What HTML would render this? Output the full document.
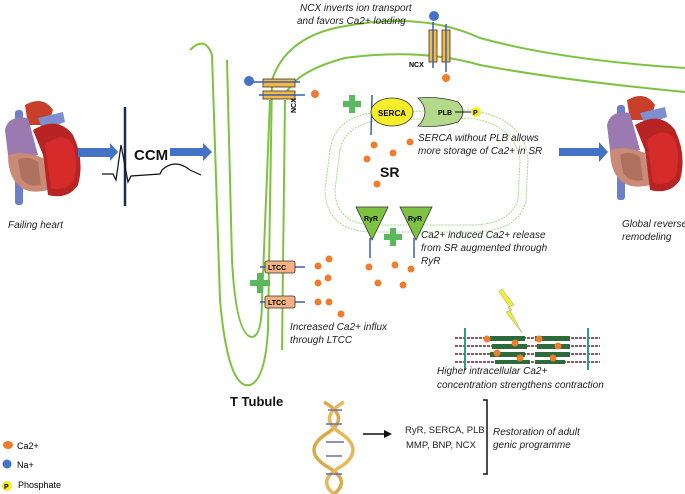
<!DOCTYPE html>
<html><head><meta charset="utf-8"><style>
html,body{margin:0;padding:0;background:#fff;}
svg{display:block;font-family:"Liberation Sans",sans-serif;}
.it{font-style:italic;font-size:10px;fill:#222;}
</style></head><body>
<svg width="685" height="494" viewBox="0 0 685 494" xmlns="http://www.w3.org/2000/svg">
<defs>
<g id="heart">
  <rect x="12" y="10" width="8" height="95" rx="3" fill="#6d7fc8"/>
  <path d="M22 5 Q40 -5 50 10 L45 25 L25 25Z" fill="#c8402a"/>
  <path d="M35 18 L60 12 L62 22 L40 30Z" fill="#7d8fd0"/>
  <path d="M2 30 Q5 15 25 18 L35 55 Q20 60 5 55Z" fill="#9a7ab0"/>
  <path d="M5 55 Q20 50 40 58 L45 90 Q25 95 15 85 Q5 75 5 55Z" fill="#c98a78"/>
  <path d="M30 30 Q55 15 70 35 Q82 60 75 85 Q65 100 45 95 L40 55Z" fill="#b82424"/>
  <path d="M42 45 Q60 30 70 45 Q76 65 70 82 Q60 92 48 88Z" fill="#d62b2b"/>
  <path d="M15 60 Q25 55 35 62 L38 85 Q25 88 18 78Z" fill="#b0705e"/>
</g>
</defs>

<use href="#heart" x="3" y="100"/>
<use href="#heart" x="605" y="95"/>
<text x="8" y="228" class="it">Failing heart</text>
<text x="622" y="227" class="it">Global reverse</text>
<text x="622" y="240" class="it">remodeling</text>

<g fill="#4472c4">
<rect x="78" y="148" width="32" height="9"/><polygon points="110,143 118,152 110,161"/>
<rect x="170" y="148" width="33" height="8"/><polygon points="203,143 212,152 203,161"/>
<rect x="559" y="148" width="41" height="8"/><polygon points="599,142 608,152 599,162"/>
</g>
<line x1="125" y1="107" x2="125" y2="206" stroke="#1a2a50" stroke-width="2.5"/>
<path d="M102 174 L113 174 L116 180 L121 145 L128 182 L131 176 L160 174 L162 170 Q175 158 190 170 L201 175" fill="none" stroke="#111" stroke-width="1.2"/>
<text x="134" y="160" font-weight="bold" font-size="15" fill="#111">CCM</text>

<g fill="none" stroke="#7dc241" stroke-width="2">
<path d="M190 50 Q205 35 212 55 L220 300 Q228 390 250 385 Q265 380 268 330 L272 80 Q285 40 335 28 Q420 10 480 38 Q560 60 685 68"/>
<path d="M227 60 L232 260 Q236 336 252 337 Q262 336 262 300 L270 100"/>
<path d="M283 95 L288 90 Q300 70 345 58 Q420 48 480 65 Q560 80 685 92"/>
<path d="M282 350 L285 100"/>
</g>
<g fill="none" stroke="#a7d88a" stroke-width="1" stroke-dasharray="2,1">
<path d="M340 150 Q345 125 380 120 L470 118 Q515 125 520 160 L518 200 Q510 225 470 225 L370 225 Q335 222 335 190Z"/>
<path d="M330 150 Q335 115 380 112 L470 110 Q525 118 528 160 L526 200 Q520 232 470 232 L370 232 Q326 230 325 190Z"/>
</g>
<text x="380" y="177" font-weight="bold" font-size="14" fill="#111">SR</text>

<g stroke="#333" stroke-width="0.8" fill="#f5b942">
<rect x="263" y="79" width="32" height="8"/><rect x="263" y="91" width="32" height="8"/>
</g>
<g stroke="#3a5fb0" stroke-width="1.5"><line x1="253" y1="82" x2="300" y2="82"/><line x1="259" y1="95" x2="305" y2="95"/></g>
<circle cx="249" cy="81" r="5" fill="#4472c4"/>
<circle cx="315" cy="94" r="4" fill="#ef7d30"/>
<text x="0" y="0" font-size="7" font-weight="bold" transform="translate(296,113) rotate(-90)">NCX</text>
<g stroke="#333" stroke-width="0.8" fill="#f5b942">
<rect x="429" y="30" width="8" height="32"/><rect x="442" y="30" width="8" height="32"/>
</g>
<g stroke="#3a5fb0" stroke-width="1.5"><line x1="433" y1="22" x2="433" y2="68"/><line x1="446" y1="24" x2="446" y2="72"/></g>
<circle cx="434" cy="16" r="5" fill="#4472c4"/>
<circle cx="446" cy="78" r="4" fill="#ef7d30"/>
<text x="409" y="67" font-size="7" font-weight="bold">NCX</text>
<text x="300" y="11" class="it">NCX inverts ion transport</text>
<text x="297" y="24" class="it">and favors Ca2+ loading</text>

<line x1="372" y1="95" x2="371" y2="135" stroke="#3a5fb0" stroke-width="1.5"/>
<ellipse cx="392" cy="112" rx="21" ry="14" fill="#f5ec2a" stroke="#333" stroke-width="0.8"/>
<text x="378" y="116" font-size="8" font-weight="bold">SERCA</text>
<rect x="343" y="101" width="18" height="6" fill="#5cb85c"/><rect x="349" y="95" width="6" height="18" fill="#5cb85c"/>
<path d="M418 98 Q440 96 458 102 Q468 112 458 122 Q440 128 418 126 Q432 112 418 98Z" fill="#b5d98a" stroke="#333" stroke-width="0.8"/>
<text x="438" y="115" font-size="7" font-weight="bold">PLB</text>
<line x1="455" y1="112" x2="473" y2="112" stroke="#111"/>
<circle cx="476" cy="112" r="5" fill="#f5ec2a"/><text x="473" y="115" font-size="7" font-weight="bold">P</text>
<text x="418" y="141" class="it">SERCA without PLB allows</text>
<text x="418" y="154" class="it">more storage of Ca2+ in SR</text>
<g fill="#ef7d30">
<circle cx="374" cy="145" r="3.5"/><circle cx="410" cy="142" r="3.5"/><circle cx="393" cy="153" r="3.5"/><circle cx="367" cy="159" r="3.5"/><circle cx="377" cy="184" r="3.5"/>
</g>

<g fill="#7dc241" stroke="#333" stroke-width="0.8">
<polygon points="356,207 388,207 372,240"/><polygon points="400,207 432,207 416,240"/>
</g>
<text x="364" y="221" font-size="7" font-weight="bold">RyR</text>
<text x="408" y="221" font-size="7" font-weight="bold">RyR</text>
<g stroke="#3a5fb0" stroke-width="1.5"><line x1="370" y1="238" x2="370" y2="258"/><line x1="414" y1="238" x2="414" y2="258"/></g>
<rect x="384" y="234" width="18" height="6" fill="#5cb85c"/><rect x="390" y="228" width="6" height="18" fill="#5cb85c"/>
<text x="421" y="238" class="it">Ca2+ induced Ca2+ release</text>
<text x="421" y="251" class="it">from SR augmented through</text>
<text x="421" y="264" class="it">RyR</text>
<g fill="#ef7d30">
<circle cx="369" cy="267" r="3.5"/><circle cx="395" cy="265" r="3.5"/><circle cx="411" cy="269" r="3.5"/><circle cx="378" cy="283" r="3.5"/><circle cx="403" cy="285" r="3.5"/>
</g>

<g stroke="#3a5fb0" stroke-width="1.5"><line x1="260" y1="267" x2="305" y2="267"/><line x1="260" y1="302" x2="305" y2="302"/></g>
<g fill="#f4b183" stroke="#333" stroke-width="0.8">
<rect x="265" y="261" width="30" height="12" rx="2"/><rect x="265" y="296" width="30" height="12" rx="2"/>
</g>
<text x="268" y="270" font-size="7" font-weight="bold">LTCC</text>
<text x="268" y="305" font-size="7" font-weight="bold">LTCC</text>
<rect x="250" y="280" width="20" height="6" fill="#5cb85c"/><rect x="257" y="273" width="6" height="20" fill="#5cb85c"/>
<g fill="#ef7d30">
<circle cx="318" cy="266" r="3.5"/><circle cx="329" cy="259" r="3.5"/><circle cx="318" cy="283" r="3.5"/><circle cx="328" cy="278" r="3.5"/><circle cx="318" cy="302" r="3.5"/><circle cx="329" cy="302" r="3.5"/><circle cx="341" cy="314" r="3.5"/>
</g>
<text x="290" y="330" class="it">Increased Ca2+ influx</text>
<text x="290" y="343" class="it">through LTCC</text>
<text x="230" y="406" font-weight="bold" font-size="13" fill="#111">T Tubule</text>

<!-- sarcomere -->
<polygon points="502,289 514,305 508,307 522,333 506,312 512,310 499,292" fill="#f5ec2a" stroke="#999" stroke-width="0.5"/>
<g stroke="#8b3a4a" stroke-width="1.8" stroke-dasharray="3,1">
<line x1="455" y1="338" x2="600" y2="338"/><line x1="455" y1="346" x2="600" y2="346"/><line x1="455" y1="354" x2="600" y2="354"/><line x1="455" y1="362" x2="600" y2="362"/>
</g>
<g fill="#2e6b3a"><rect x="490" y="336" width="35" height="5"/><rect x="535" y="336" width="35" height="5"/><rect x="492" y="344" width="35" height="5"/><rect x="537" y="344" width="33" height="5"/><rect x="490" y="352" width="35" height="5"/><rect x="535" y="352" width="35" height="5"/><rect x="495" y="360" width="35" height="4"/><rect x="535" y="360" width="30" height="4"/></g>
<g stroke="#2e9a8a" stroke-width="2"><line x1="465" y1="328" x2="465" y2="370"/><line x1="588" y1="328" x2="588" y2="370"/></g>
<g fill="#ef7d30"><circle cx="487" cy="339" r="3.5"/><circle cx="515" cy="343" r="3.5"/><circle cx="539" cy="339" r="3.5"/><circle cx="558" cy="346" r="3.5"/><circle cx="497" cy="353" r="3.5"/><circle cx="520" cy="358" r="3.5"/><circle cx="553" cy="358" r="3.5"/></g>
<text x="437" y="374" class="it">Higher intracellular Ca2+</text>
<text x="437" y="388" class="it">concentration strengthens contraction</text>

<!-- DNA -->
<g fill="none" stroke-width="3.5">
<path d="M324 402 Q352 418 326 434 Q302 450 326 466 Q352 480 334 494" stroke="#d9a94a"/>
<path d="M344 402 Q316 418 342 434 Q364 450 342 466 Q316 480 334 494" stroke="#e6b85a"/>
</g>
<g stroke="#6a6ab0" stroke-width="1.5"><line x1="328" y1="410" x2="342" y2="410"/><line x1="326" y1="424" x2="342" y2="424"/><line x1="326" y1="442" x2="344" y2="442"/><line x1="326" y1="456" x2="342" y2="456"/><line x1="326" y1="474" x2="342" y2="474"/></g>
<line x1="363" y1="434" x2="384" y2="434" stroke="#111" stroke-width="1.5"/>
<polygon points="384,430 392,434 384,438" fill="#111"/>
<text x="405" y="433" font-size="9.5" fill="#222">RyR, SERCA, PLB</text>
<text x="406" y="448" font-size="9.5" fill="#222">MMP, BNP, NCX</text>
<path d="M483 400 L487 400 L487 474 L483 474" fill="none" stroke="#111" stroke-width="1.5"/>
<text x="493" y="435" class="it">Restoration of adult</text>
<text x="493" y="448" class="it">genic programme</text>

<ellipse cx="8" cy="445" rx="5" ry="4" fill="#ef7d30"/><text x="17" y="449" font-size="9">Ca2+</text>
<circle cx="7" cy="464" r="4.5" fill="#4472c4"/><text x="17" y="468" font-size="9">Na+</text>
<circle cx="7" cy="486" r="5" fill="#f5ec2a"/><text x="4" y="489" font-size="7" font-weight="bold">P</text><text x="18" y="488" font-size="9">Phosphate</text>
</svg>
</body></html>
